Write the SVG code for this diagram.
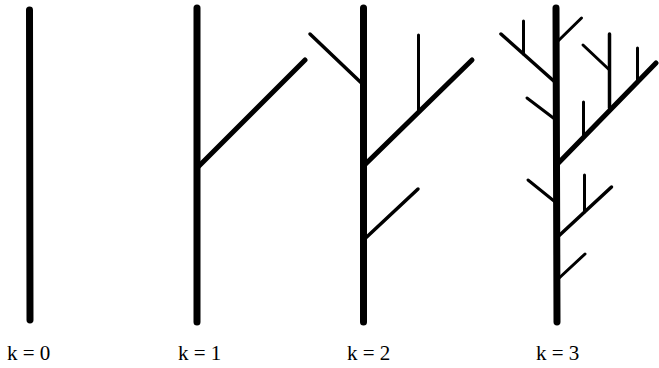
<svg xmlns="http://www.w3.org/2000/svg" width="659" height="368" viewBox="0 0 659 368">
<style>
line{stroke:#000;stroke-linecap:round}
.t{stroke-width:7}
.b1{stroke-width:5}
.b2{stroke-width:3.5}
.b3{stroke-width:3}
.lbl{font-family:'Liberation Serif','DejaVu Serif',serif;font-size:21px;fill:#000}
</style>
<rect width="659" height="368" fill="#fff"/>
<g id="tree-k0">
<line class="t" x1="29.5" y1="10" x2="30" y2="320"/>
<text class="lbl" x="7" y="360" font-family="Liberation Serif, serif">k = 0</text>
</g>
<g id="tree-k1">
<line class="t" x1="197" y1="8" x2="197" y2="322"/>
<line class="b1" x1="197" y1="168" x2="305" y2="60"/>
<text class="lbl" x="178" y="360" font-family="Liberation Serif, serif">k = 1</text>
</g>
<g id="tree-k2">
<line class="t" x1="363.5" y1="8" x2="363.5" y2="322"/>
<line class="b1" x1="363.5" y1="166" x2="472" y2="60"/>
<line class="b3" x1="418.5" y1="112" x2="418.5" y2="35"/>
<line class="b2" x1="363.5" y1="85" x2="310" y2="34"/>
<line class="b2" x1="363.5" y1="240" x2="418" y2="189"/>
<text class="lbl" x="347" y="360" font-family="Liberation Serif, serif">k = 2</text>
</g>
<g id="tree-k3">
<line class="t" x1="556" y1="8" x2="557" y2="322"/>
<line class="b1" x1="556.5" y1="165" x2="656" y2="63"/>
<line class="b2" x1="609.5" y1="108" x2="609.5" y2="34"/>
<line class="b3" x1="609.5" y1="70" x2="583" y2="45"/>
<line class="b3" x1="637.5" y1="80" x2="637.5" y2="48"/>
<line class="b3" x1="583.5" y1="136" x2="583.5" y2="102"/>
<line class="b2" x1="556" y1="83" x2="501" y2="34"/>
<line class="b3" x1="523.5" y1="54" x2="523.5" y2="21"/>
<line class="b3" x1="556" y1="43" x2="581.5" y2="18"/>
<line class="b3" x1="556" y1="120" x2="527" y2="98"/>
<line class="b3" x1="556.5" y1="203" x2="528" y2="180"/>
<line class="b2" x1="556.5" y1="238" x2="611.5" y2="187"/>
<line class="b3" x1="584.5" y1="212" x2="584.5" y2="175"/>
<line class="b3" x1="557" y1="280" x2="585" y2="254"/>
<text class="lbl" x="536" y="360" font-family="Liberation Serif, serif">k = 3</text>
</g>
</svg>
